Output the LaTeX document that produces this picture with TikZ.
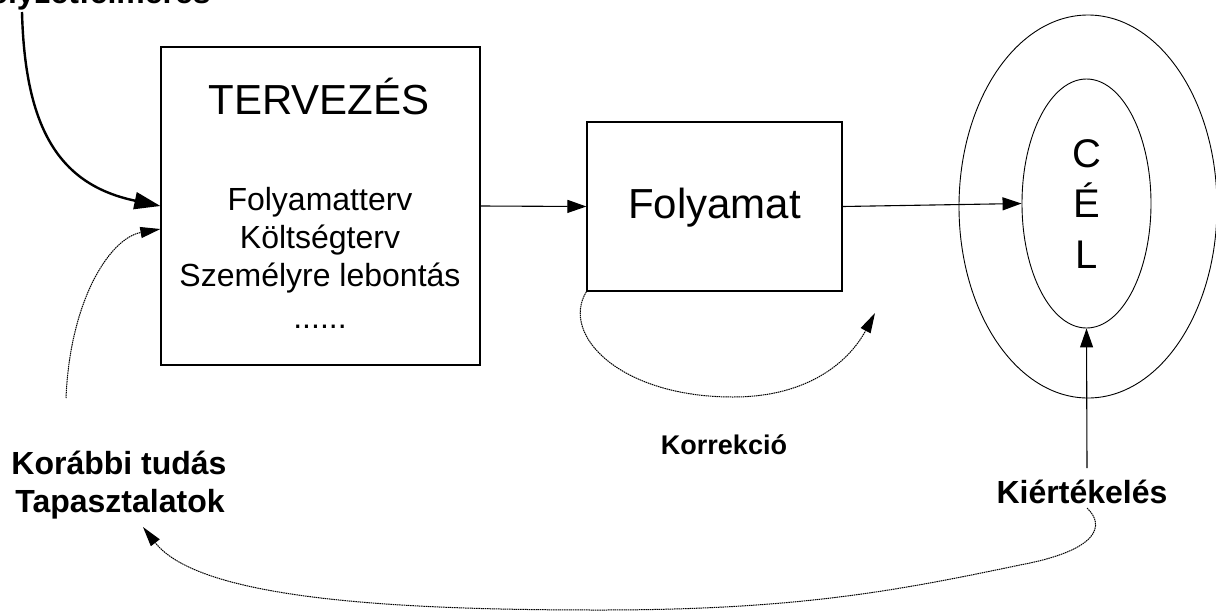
\documentclass[tikz,border=0pt]{standalone}
\usepackage{fontspec}
\setmainfont{Liberation Sans}
\usetikzlibrary{arrows.meta,shapes.geometric,calc}
\begin{document}
\begin{tikzpicture}[x=1pt,y=-1pt,
  box/.style={draw, line width=1.2pt, inner sep=0pt},
  ell/.style={draw, ellipse, line width=0.9pt, inner sep=0pt},
  txt/.style={anchor=base, inner sep=0pt, font=\fontsize{32}{38}\selectfont},
  btxt/.style={anchor=base, inner sep=0pt, font=\fontsize{32}{38}\selectfont\bfseries},
  ktxt/.style={anchor=base, inner sep=0pt, font=\fontsize{27}{32}\selectfont\bfseries},
  big/.style={anchor=base, inner sep=0pt, font=\fontsize{42}{48}\selectfont},
  cel/.style={anchor=base, inner sep=0pt, font=\fontsize{40}{46}\selectfont},
  arr/.style={line width=1.1pt, -{Triangle[length=19pt,width=13pt]}},
  thickarr/.style={line width=2.4pt, -{Triangle[length=26pt,width=17pt]}},
  dotarr/.style={line width=1pt, dash pattern=on 1.5pt off 0.7pt, -{Triangle[length=20pt,width=11pt]}},
]
\clip (0,0) rectangle (1216,611);
% boxes
\node[box, minimum width=319pt, minimum height=318pt] (tbox) at (320.5,206) {};
\node[box, minimum width=255pt, minimum height=169pt] (fbox) at (714.5,206.5) {};
% ellipses
\node[ell, minimum width=258pt, minimum height=383pt] (outer) at (1088,206.5) {};
\node[ell, minimum width=129pt, minimum height=249pt] (inner) at (1086.5,203.5) {};
% texts in TERVEZES box
\node[big] (tterv) at (319,114) {TERVEZÉS};
\node[txt] (t1) at (320,210) {Folyamatterv};
\node[txt] (t2) at (320,248) {Költségterv};
\node[txt] (t3) at (320,286) {Személyre lebontás};
\node[txt] (t4) at (320,328) {......};
% Folyamat
\node[big] (ftxt) at (714.5,218) {Folyamat};
% CEL
\node[cel] (c1) at (1087,167) {C};
\node[cel] (c2) at (1087,217) {É};
\node[cel] (c3) at (1087,268) {L};
% labels
\node[btxt, anchor=base east] (hely) at (211,3) {Helyzetfelmérés};
\node[btxt] (kor1) at (119,474) {Korábbi tudás};
\node[btxt] (kor2) at (120,512) {Tapasztalatok};
\node[ktxt] (korr) at (724,454) {Korrekció};
\node[btxt] (kiert) at (1082,503) {Kiértékelés};
% coordinates
\coordinate (hstart) at (22,12);
\coordinate (kstart) at (66,398);
\coordinate (kend) at (875,313);
\coordinate (evstart) at (1087,468);
\coordinate (evback) at (1087,508);
\coordinate (tapend) at (143,527);
% connectors
\draw[arr] (tbox.east) -- (fbox.west);
\draw[arr] (fbox.east) -- (inner.west);
\draw[arr] (evstart) -- (inner.south);
\draw[thickarr] (hstart) .. controls (25,130) and (60,185) .. (tbox.west);
\draw[dotarr] (kstart) .. controls (70,300) and (110,238) .. ($(tbox.west)+(0,23)$);
\draw[dotarr] (fbox.south west) .. controls (560,335) and (620,397) .. (733,397)
   .. controls (810,397) and (850,360) .. (kend);
\draw[dotarr] (evback) .. controls (1105,525) and (1100,550) .. (1020,565)
   .. controls (900,590) and (800,610) .. (600,610)
   .. controls (400,610) and (200,600) .. (tapend);
\end{tikzpicture}
\end{document}
